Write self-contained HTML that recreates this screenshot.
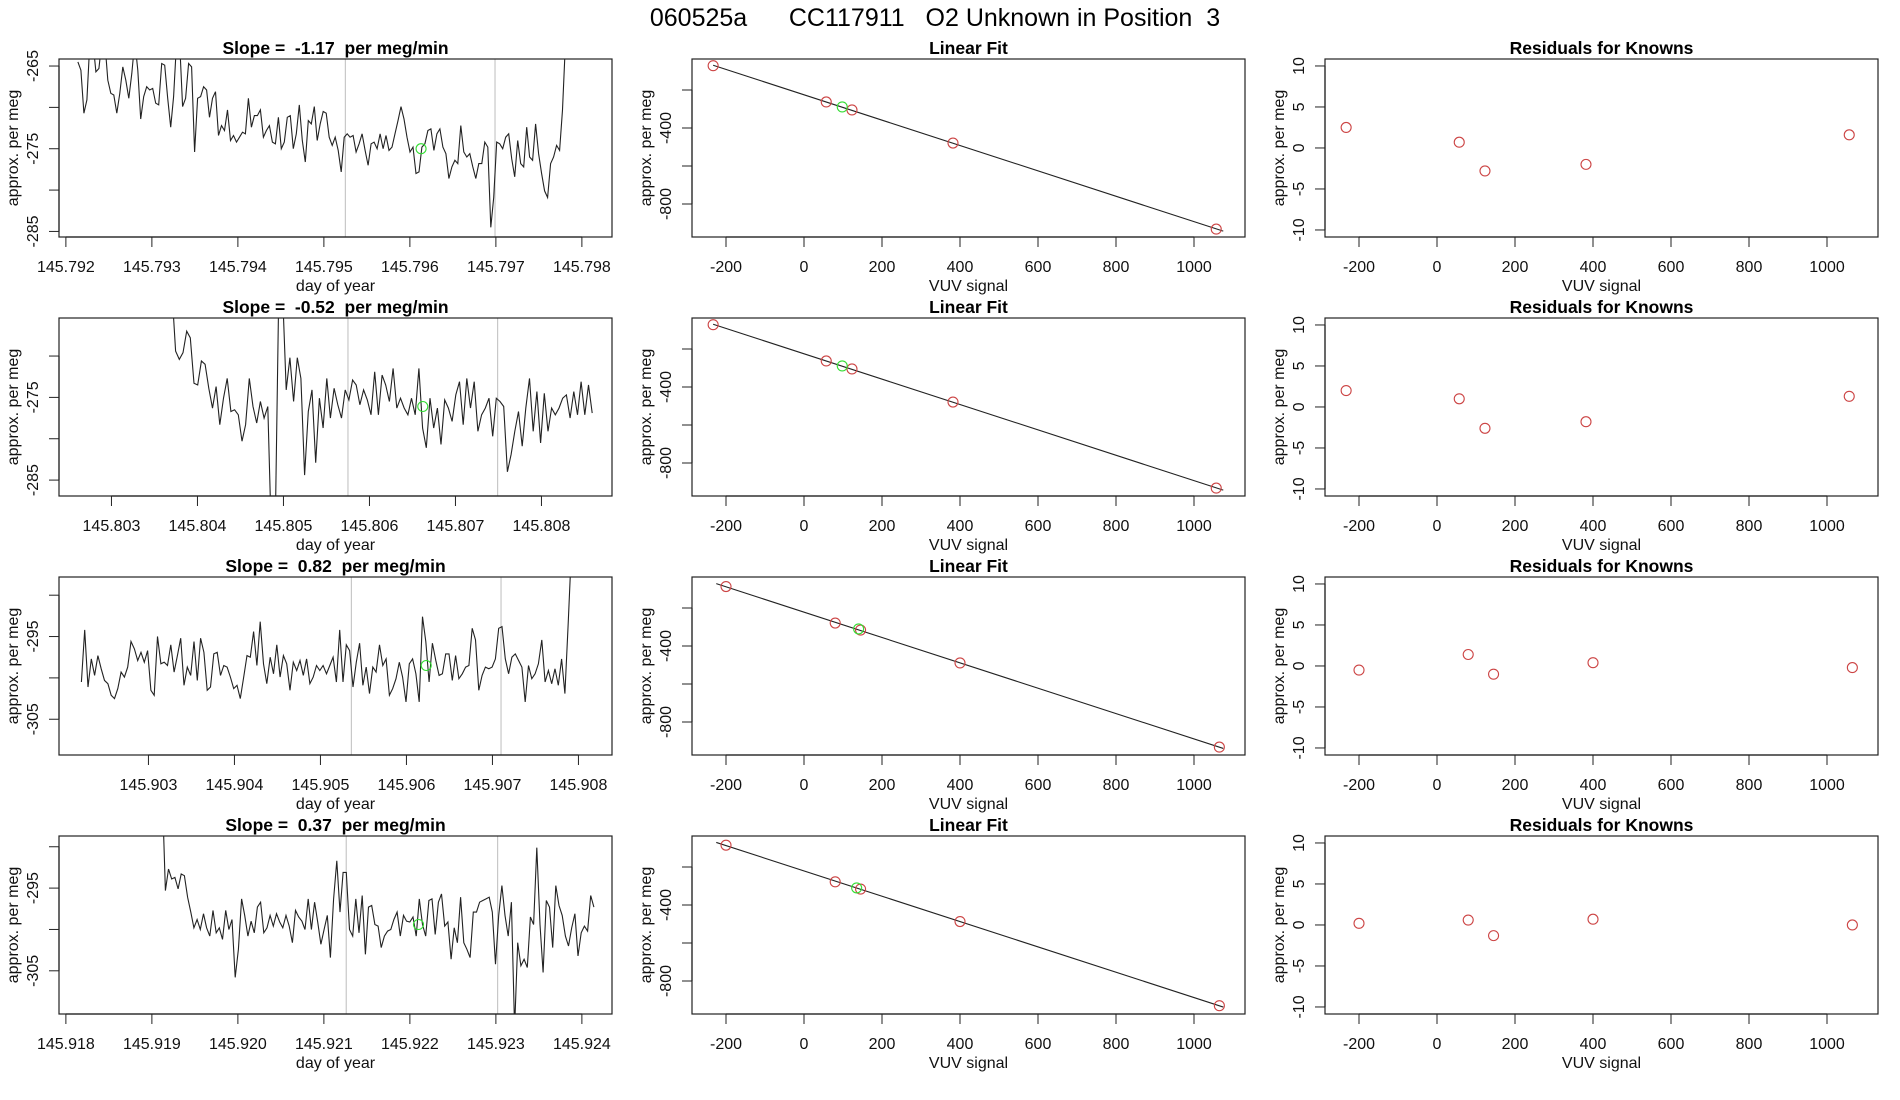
<!DOCTYPE html>
<html>
<head>
<meta charset="utf-8">
<style>
  html,body{margin:0;padding:0;background:#fff;}
  svg{display:block;font-family:"Liberation Sans",Arial,sans-serif;}
  .pre{white-space:pre;}
</style>
</head>
<body>
<svg id="fig" width="1900" height="1100" viewBox="0 0 1900 1100" xmlns="http://www.w3.org/2000/svg">
  <rect x="0" y="0" width="1900" height="1100" fill="#fff"/>
  <text class="pre" x="935" y="26" font-size="25" text-anchor="middle" fill="#000">060525a      CC117911   O2 Unknown in Position  3</text>
</svg>
<script>
// ---------------- DATA ----------------
const slopeLabels = ["-1.17", "-0.52", "0.82", "0.37"];
const timeTicks = [
  ["145.792","145.793","145.794","145.795","145.796","145.797","145.798"],
  ["145.803","145.804","145.805","145.806","145.807","145.808"],
  ["145.903","145.904","145.905","145.906","145.907","145.908"],
  ["145.918","145.919","145.920","145.921","145.922","145.923","145.924"]
];
const timeDomainMin = [145.79192, 145.80239, 145.90196, 145.91792];
const yTopValue = [-264.15, -265.4, -287.8, -288.7];
const yTicks = [[-265,-270,-275,-280,-285],[-270,-275,-280,-285],[-290,-295,-300,-305],[-290,-295,-300,-305]];
const yTickLabels = [["-265","","-275","","-285"],["","-275","","-285"],["","-295","","-305"],["","-295","","-305"]];
const seriesStart = [145.79214, 145.80366, 145.90222, 145.91912];
const seriesEnd = [145.79781, 145.80859, 145.90792, 145.92414];
const markerLines = [[145.79525,145.79699],[145.80575,145.80749],[145.90536,145.90710],[145.92126,145.92302]];
const unknownTime = [145.79613, 145.80662, 145.90623, 145.92210];
const unknownValue = [-275.0, -276.1, -298.5, -299.4];

const row1Values = [-264.5,-265.5,-270.7,-269.1,-262,-262,-265.7,-265.3,-262,-262,-266.7,-268.3,-268.5,-270.7,-268.3,-265.1,-266.7,-268.9,-265.9,-262,-265.5,-271.4,-268.7,-267.5,-267.9,-267.7,-269.5,-269.7,-264.7,-264.9,-268.9,-272.4,-268.7,-262,-262,-269.9,-268.9,-264.7,-265.1,-275.4,-268.9,-268.7,-267.5,-267.9,-271.2,-268.9,-268.1,-273.4,-272.2,-272.8,-270.3,-274.0,-273.4,-274.2,-273.6,-273.0,-273.2,-268.9,-272.4,-271.0,-271.0,-270.3,-273.6,-272.8,-272.2,-274.2,-274.4,-271.2,-275.0,-274.2,-271.2,-271.0,-275.0,-273.2,-269.7,-274.0,-276.6,-271.6,-272.0,-269.9,-274.0,-272.0,-270.5,-270.7,-273.6,-274.6,-273.6,-275.2,-277.8,-273.6,-273.2,-273.6,-273.4,-275.4,-274.4,-273.2,-275.2,-277.0,-274.4,-274.2,-275.0,-273.2,-275.0,-273.4,-275.2,-274.8,-273.2,-271.6,-269.9,-271.4,-273.6,-275.4,-274.8,-278.0,-277.8,-274.8,-274.4,-272.8,-272.6,-275.2,-273.2,-272.6,-274.8,-275.6,-278.6,-277.2,-276.4,-276.8,-272.2,-275.4,-276.0,-275.6,-277.2,-278.6,-276.8,-276.8,-274.2,-274.8,-284.5,-280.9,-274.2,-274.4,-275.0,-273.6,-273.2,-276.2,-278.4,-274.0,-276.8,-277.2,-272.4,-276.0,-276.4,-272.0,-275.6,-278.0,-280.1,-280.9,-276.8,-276.0,-274.6,-275.2,-270.3,-262];
const row2Values = [-262,-262,-269.4,-270.4,-269.6,-267.0,-267.8,-273.3,-273.5,-270.6,-271.0,-273.9,-276.3,-273.7,-278.3,-275.1,-272.7,-276.7,-276.5,-277.1,-280.3,-278.3,-272.7,-276.1,-278.1,-275.5,-277.5,-276.1,-292,-292,-262,-262,-274.1,-270.2,-275.5,-270.2,-272.7,-284.4,-276.7,-274.1,-282.9,-275.1,-278.7,-272.7,-277.5,-273.9,-275.9,-277.5,-274.1,-275.3,-272.9,-273.5,-275.9,-274.1,-275.3,-277.1,-271.9,-277.1,-272.3,-273.5,-275.5,-271.5,-276.3,-275.1,-276.3,-277.1,-275.1,-277.1,-271.5,-278.7,-281.1,-275.1,-278.7,-276.3,-280.7,-275.3,-276.3,-277.9,-274.7,-273.1,-278.3,-272.7,-276.3,-273.1,-279.1,-277.1,-276.3,-275.1,-279.7,-275.1,-275.5,-276.1,-284.0,-281.9,-279.1,-276.7,-280.9,-276.3,-272.7,-279.1,-274.3,-280.5,-274.5,-279.1,-276.3,-277.1,-276.3,-275.1,-274.7,-277.5,-274.3,-277.1,-273.1,-277.1,-273.5,-276.9];
const row3Values = [-300.5,-294.2,-301.1,-297.7,-299.7,-297.3,-298.9,-300.3,-300.7,-302.1,-302.5,-301.3,-299.3,-299.9,-298.7,-295.6,-296.5,-297.9,-296.9,-298.1,-296.7,-301.5,-302.1,-295.0,-298.3,-298.1,-298.5,-296.0,-299.3,-297.3,-295.2,-300.9,-298.7,-299.7,-295.6,-300.3,-295.2,-296.9,-301.5,-301.1,-297.1,-296.9,-299.7,-298.5,-298.7,-299.9,-301.3,-300.9,-302.5,-299.9,-297.3,-297.5,-294.4,-298.5,-293.2,-298.3,-300.7,-297.5,-299.5,-296.0,-299.9,-297.3,-298.3,-301.5,-298.1,-299.1,-297.9,-299.7,-297.7,-300.7,-299.9,-298.5,-299.1,-298.5,-299.5,-298.5,-297.5,-300.5,-294.2,-300.5,-296.0,-296.7,-301.1,-298.1,-295.8,-300.9,-298.7,-301.9,-298.7,-299.3,-296.0,-298.5,-297.7,-302.1,-301.3,-300.1,-298.1,-299.9,-302.9,-298.3,-297.7,-299.5,-302.9,-292.6,-295.6,-300.5,-295.8,-297.9,-299.7,-299.5,-297.1,-297.1,-300.3,-297.3,-300.1,-299.5,-298.7,-298.5,-294.0,-295.4,-301.5,-299.7,-298.7,-298.9,-298.7,-297.7,-294.0,-293.8,-297.7,-299.5,-297.5,-297.1,-297.9,-298.7,-302.9,-298.5,-300.1,-299.5,-298.3,-295.4,-300.5,-299.1,-300.7,-298.9,-300.9,-297.7,-301.9,-293.4,-284];
const row4Values = [-283,-295.3,-292.7,-293.9,-293.7,-295.1,-293.3,-293.5,-296.1,-297.9,-299.8,-298.8,-300.0,-298.1,-299.8,-300.8,-297.7,-300.4,-299.8,-301.2,-297.7,-300.0,-298.8,-305.8,-302.4,-296.3,-298.3,-300.8,-299.0,-300.4,-297.3,-296.7,-300.4,-299.8,-298.3,-299.6,-298.1,-299.1,-299.8,-298.3,-299.6,-301.6,-297.7,-298.5,-299.0,-300.0,-296.3,-300.0,-296.7,-299.1,-301.8,-300.0,-298.3,-303.4,-296.3,-291.7,-297.9,-293.1,-293.1,-300.0,-300.8,-296.3,-300.4,-295.9,-303.0,-297.3,-297.1,-299.4,-299.6,-302.2,-300.8,-300.2,-300.0,-298.8,-297.9,-300.8,-298.3,-299.0,-299.1,-298.5,-300.8,-296.3,-299.4,-300.8,-296.5,-296.3,-300.6,-296.7,-295.7,-299.6,-299.1,-303.6,-299.8,-301.6,-296.1,-301.6,-302.4,-303.4,-297.9,-297.9,-296.7,-296.5,-296.3,-296.1,-297.9,-304.2,-298.3,-294.7,-298.3,-300.8,-296.7,-312,-301.6,-304.4,-303.6,-304.6,-298.5,-299.4,-290.1,-299.4,-305.2,-296.5,-297.3,-302.2,-294.7,-297.1,-298.3,-300.8,-302.0,-299.8,-298.1,-303.2,-300.4,-299.6,-300.2,-295.9,-297.3];
const seriesValues = [row1Values, row2Values, row3Values, row4Values];

// Calibration (linear fit) data per row
const knownX = [[-233,57,123,382,1057],[-233,57,123,382,1057],[-200,80,145,400,1065],[-200,80,145,400,1065]];
const knownY = [[-72,-263,-305,-479,-932],[-72,-263,-305,-479,-932],[-87,-279,-316,-489,-932],[-85,-278,-316,-487,-930]];
const unknownX = [98, 98, 140, 135];
const unknownY = [-289, -289, -310, -310];
const residuals = [[2.5,0.7,-2.8,-2.0,1.6],[2.0,1.0,-2.6,-1.8,1.3],[-0.5,1.4,-1.0,0.4,-0.2],[0.2,0.6,-1.3,0.7,0.0]];
const fitRange = [[-233,1075],[-233,1075],[-225,1075],[-225,1075]];
const vuvTicks = [-200,0,200,400,600,800,1000];
const fitYTicks = [-200,-400,-600,-800];
const fitYTickLabels = ["","-400","","-800"];
const resYTicks = [10,5,0,-5,-10];

// ---------------- LAYOUT ----------------
const NS = "http://www.w3.org/2000/svg";
const svg = document.getElementById("fig");
const colX = [59, 692, 1325];
const rowY = [59, 318, 577, 836];
const PW = 553, PH = 178;
const TIME_PX = 86000;
const Y1_PX = 8.27;
const VUV_MIN = -287.2, VUV_PX = 0.39;
const FIT_TOP = -36.8, FIT_PX = 0.19;
const RES_TOP = 10.85, RES_PX = 8.2;

function mk(tag, attrs, parent) {
  const e = document.createElementNS(NS, tag);
  for (const k in attrs) e.setAttribute(k, attrs[k]);
  (parent || svg).appendChild(e);
  return e;
}
function txt(str, attrs, parent) {
  const t = mk("text", attrs, parent);
  t.textContent = str;
  return t;
}

function axisFrame(g, x0, y0, xTicks, xLabels, xpos, yTicksArr, yLabels, ypos, xTitle, title, rowIdx, colName) {
  const box = mk("rect", {x:x0, y:y0, width:PW, height:PH, fill:"none", stroke:"#222", "stroke-width":1.2}, g);
  
  
  const xa = mk("g", {}, g);
  
  
  const xf = xpos(xTicks[0]), xl = xpos(xTicks[xTicks.length-1]);
  mk("line", {x1:xf, x2:xl, y1:y0+PH, y2:y0+PH, stroke:"#222", "stroke-width":1.2}, xa);
  xTicks.forEach((v,i) => {
    const px = xpos(v);
    mk("line", {x1:px, x2:px, y1:y0+PH, y2:y0+PH+10, stroke:"#222", "stroke-width":1}, xa);
    const lab = txt(xLabels[i], {x:px, y:y0+PH+35, "font-size":16, "text-anchor":"middle", fill:"#111"}, xa);
    
    
  });
  const xt = txt(xTitle, {x:x0+PW/2, y:y0+PH+54, "font-size":16, "text-anchor":"middle", fill:"#111"}, g);
  
  
  const ya = mk("g", {}, g);
  
  
  const yf = ypos(yTicksArr[0]), yl = ypos(yTicksArr[yTicksArr.length-1]);
  mk("line", {x1:x0, x2:x0, y1:yf, y2:yl, stroke:"#222", "stroke-width":1.2}, ya);
  yTicksArr.forEach((v,i) => {
    const py = ypos(v);
    mk("line", {x1:x0-10, x2:x0, y1:py, y2:py, stroke:"#222", "stroke-width":1}, ya);
    if (yLabels[i]) {
      const lab = txt(yLabels[i], {x:0, y:0, "font-size":16, "text-anchor":"middle", fill:"#111",
        transform:"translate(" + (x0-21) + "," + py + ") rotate(-90)"}, ya);
      
      
    }
  });
  const yt = txt("approx. per meg", {x:0, y:0, "font-size":16, "text-anchor":"middle", fill:"#111",
    transform:"translate(" + (x0-41) + "," + (y0+PH/2) + ") rotate(-90)"}, g);
  
  
  const tt = txt(title, {x:x0+PW/2, y:y0-5, "font-size":17.5, "font-weight":"bold", "text-anchor":"middle", fill:"#000", "class":"pre"}, g);
  
  
}

const defs = mk("defs", {});

for (let r = 0; r < 4; r++) {
  const y0 = rowY[r];

  {
    const x0 = colX[0];
    const g = mk("g", {});
    
    
    const xpos = v => x0 + (v - timeDomainMin[r]) * TIME_PX;
    const ypos = v => y0 + (yTopValue[r] - v) * Y1_PX;
    const cp = mk("clipPath", {id:"clip" + r}, defs);
    mk("rect", {x:x0, y:y0, width:PW, height:PH}, cp);
    markerLines[r].forEach(t => {
      const l = mk("line", {x1:xpos(t), x2:xpos(t), y1:y0, y2:y0+PH, stroke:"#c8c8c8", "stroke-width":1.2}, g);
      
      
    });
    const vals = seriesValues[r];
    const n = vals.length;
    const dt = (seriesEnd[r] - seriesStart[r]) / (n - 1);
    let d = "";
    vals.forEach((v,i) => {
      const t = seriesStart[r] + i * dt;
      d += (i ? "L" : "M") + xpos(t).toFixed(1) + "," + ypos(v).toFixed(1);
    });
    const path = mk("path", {d:d, fill:"none", stroke:"#222", "stroke-width":1.1, "clip-path":"url(#clip" + r + ")"}, g);
    
    
    const uc = mk("circle", {cx:xpos(unknownTime[r]), cy:ypos(unknownValue[r]), r:5, fill:"none", stroke:"#33dd33", "stroke-width":1.1}, g);
    
    
    const ticks = timeTicks[r].map(Number);
    axisFrame(g, x0, y0, ticks, timeTicks[r], xpos, yTicks[r], yTickLabels[r], ypos,
      "day of year", "Slope =  " + slopeLabels[r] + "  per meg/min", r, "slope");
  }

  {
    const x0 = colX[1];
    const g = mk("g", {});
    
    
    const xpos = v => x0 + (v - VUV_MIN) * VUV_PX;
    const ypos = v => y0 + (FIT_TOP - v) * FIT_PX;
    const xs = knownX[r], ys = knownY[r];
    const n = xs.length;
    const mx = xs.reduce((a,b)=>a+b,0)/n, my = ys.reduce((a,b)=>a+b,0)/n;
    let sxy = 0, sxx = 0;
    for (let i = 0; i < n; i++) { sxy += (xs[i]-mx)*(ys[i]-my); sxx += (xs[i]-mx)*(xs[i]-mx); }
    const b = sxy / sxx, a = my - b * mx;
    const fl = mk("line", {x1:xpos(fitRange[r][0]), y1:ypos(a + b*fitRange[r][0]), x2:xpos(fitRange[r][1]), y2:ypos(a + b*fitRange[r][1]), stroke:"#222", "stroke-width":1.1}, g);
    
    
    for (let i = 0; i < n; i++) {
      const c = mk("circle", {cx:xpos(xs[i]), cy:ypos(ys[i]), r:5, fill:"none", stroke:"#cc4444", "stroke-width":1.1}, g);
      
      
    }
    const uc = mk("circle", {cx:xpos(unknownX[r]), cy:ypos(unknownY[r]), r:5, fill:"none", stroke:"#33dd33", "stroke-width":1.1}, g);
    
    
    axisFrame(g, x0, y0, vuvTicks, vuvTicks.map(String), xpos, fitYTicks, fitYTickLabels, ypos,
      "VUV signal", "Linear Fit", r, "linear-fit");
  }

  {
    const x0 = colX[2];
    const g = mk("g", {});
    
    
    const xpos = v => x0 + (v - VUV_MIN) * VUV_PX;
    const ypos = v => y0 + (RES_TOP - v) * RES_PX;
    const xs = knownX[r], rs = residuals[r];
    for (let i = 0; i < xs.length; i++) {
      const c = mk("circle", {cx:xpos(xs[i]), cy:ypos(rs[i]), r:5, fill:"none", stroke:"#cc4444", "stroke-width":1.1}, g);
      
      
    }
    axisFrame(g, x0, y0, vuvTicks, vuvTicks.map(String), xpos, resYTicks, resYTicks.map(String), ypos,
      "VUV signal", "Residuals for Knowns", r, "residuals");
  }
}
</script>
</body>
</html>
